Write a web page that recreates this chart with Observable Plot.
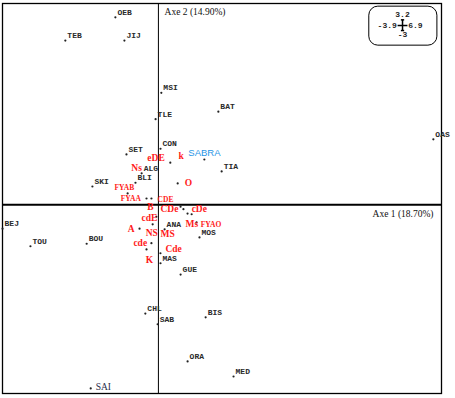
<!DOCTYPE html>
<html><head><meta charset="utf-8">
<script src="https://cdn.jsdelivr.net/npm/d3@7"></script>
<script src="https://cdn.jsdelivr.net/npm/@observablehq/plot@0.6"></script>
<style>body{margin:0;background:#fff}svg{display:block}</style>
</head><body><div id="chart"></div>
<script>
// Region labels (black, monospace)
const regionNames = ["OEB","TEB","JIJ","MSI","TLE","BAT","OAS","CON","SET","TIA","ALG","BLI","SKI","BEJ","TOU","BOU","ANA","MOS","MAS","GUE","CHL","SAB","BIS","ORA","MED"];
const regionX = [-1.00,-2.22,-0.78,0.12,-0.02,1.51,6.75,0.10,-0.73,1.59,-0.36,-0.51,-1.56,-3.75,-3.07,-1.70,0.20,1.05,0.10,0.59,-0.27,0.03,1.20,0.76,1.88];
const regionY = [3.06,2.69,2.69,1.86,1.44,1.56,1.12,0.97,0.88,0.61,0.58,0.43,0.37,-0.30,-0.58,-0.54,-0.31,-0.44,-0.85,-1.03,-1.65,-1.82,-1.71,-2.41,-2.65];

// Phenotype labels (red, larger)
const phenoNames = ["eDE","k","Ns","O","B","CDe","cDe","cdE","Ms","A","NS","MS","cde","Cde","K"];
const phenoX = [-0.27,0.49,-0.66,0.64,-0.27,0.05,0.81,-0.41,0.66,-0.75,-0.31,0.05,-0.61,0.17,-0.31];
const phenoY = [0.74,0.77,0.58,0.34,-0.04,-0.06,-0.06,-0.21,-0.31,-0.38,-0.44,-0.46,-0.60,-0.71,-0.87];

// Phenotype labels (red, smaller)
const phenoSmallNames = ["FYAB","FYAA","CDE","FYAO"];
const phenoSmallX = [-1.07,-0.92,-0.02,1.03];
const phenoSmallY = [0.28,0.10,0.08,-0.31];

// Supplementary labels
const sabraName = "SABRA", sabraX = 0.73, sabraY = 0.83;
const saiName = "SAI", saiX = -1.53, saiY = -2.90;

// Unlabelled points
const dotX = [0.29,1.12,0.47,-0.75,-0.29,-0.17,-0.05,0.54,0.61,0.71,0.81,0.93,-0.14,-0.46,-0.17,-0.29,0.05,-1.65];
const dotY = [0.67,0.72,0.34,0.18,0.10,0.10,-0.19,-0.03,-0.07,-0.14,-0.15,-0.28,-0.31,-0.38,-0.61,-0.71,-0.77,-2.92];

// Axis titles
const axisTitles = ["Axe 2 (14.90%)","Axe 1 (18.70%)"];
const axisTitleX = [0.15,5.22];
const axisTitleY = [3.06,-0.15];

// Scale box values
const scaleTop = "3.2", scaleLeft = "-3.9", scaleRight = "6.9", scaleBottom = "-3";

const regions = regionNames.map((n,i)=>({n,x:regionX[i],y:regionY[i]}));
const phenos = phenoNames.map((n,i)=>({n,x:phenoX[i],y:phenoY[i]}));
const phenosSmall = phenoSmallNames.map((n,i)=>({n,x:phenoSmallX[i],y:phenoSmallY[i]}));
const dots = dotX.map((x,i)=>({x,y:dotY[i]}));
const titles = axisTitles.map((n,i)=>({n,x:axisTitleX[i],y:axisTitleY[i]}));

const mono = "'Liberation Mono', 'DejaVu Sans Mono', monospace";
const serif = "'Liberation Serif', 'DejaVu Serif', serif";

const plot = Plot.plot({
  width: 455, height: 398,
  marginLeft: 2, marginRight: 14, marginTop: 3, marginBottom: 5,
  x: {domain: [-3.8, 6.9], axis: null},
  y: {domain: [-3, 3.2], axis: null},
  style: {background: "#fff"},
  marks: [
    Plot.ruleX([0], {stroke: "#000", strokeWidth: 1}),
    Plot.ruleY([0], {stroke: "#000", strokeWidth: 2}),
    Plot.frame({stroke: "#000", strokeWidth: 1.3}),
    // scale box
    Plot.rect([{x1:5.14,x2:6.80,y1:2.53,y2:3.15}], {x1:"x1",x2:"x2",y1:"y1",y2:"y2", fill:"none", stroke:"#000", strokeWidth:1, rx: 9}),
    Plot.text([scaleTop], {x: 5.95, y: 3.03, text: d=>d, fontFamily: mono, fontWeight: "bold", fontSize: 8, fill: "#222"}),
    Plot.text([scaleBottom], {x: 5.95, y: 2.71, text: d=>d, fontFamily: mono, fontWeight: "bold", fontSize: 8, fill: "#222"}),
    Plot.text([scaleLeft], {x: 5.81, y: 2.85, text: d=>d, textAnchor: "end", fontFamily: mono, fontWeight: "bold", fontSize: 8, fill: "#222"}),
    Plot.text([scaleRight], {x: 6.09, y: 2.85, text: d=>d, textAnchor: "start", fontFamily: mono, fontWeight: "bold", fontSize: 8, fill: "#222"}),
    Plot.link([
      {x1:5.95,x2:5.95,y1:2.77,y2:2.94},
      {x1:5.83,x2:6.07,y1:2.85,y2:2.85},
      {x1:5.91,x2:5.99,y1:2.94,y2:2.94},
      {x1:5.91,x2:5.99,y1:2.77,y2:2.77}
    ], {x1:"x1",x2:"x2",y1:"y1",y2:"y2", stroke:"#000", strokeWidth:1.5}),
    // axis titles
    Plot.text(titles, {x:"x", y:"y", text:"n", textAnchor:"start", fontFamily: serif, fontSize: 9.5, fill:"#111"}),
    // dots
    Plot.dot(regions, {x:"x", y:"y", dx:-2, dy:5, r:1.1, fill:"#222", stroke:"none"}),
    Plot.dot(dots, {x:"x", y:"y", r:1.1, fill:"#222", stroke:"none"}),
    // region labels
    Plot.text(regions, {x:"x", y:"y", text:"n", textAnchor:"start", fontFamily: mono, fontWeight:"bold", fontSize: 8, fill:"#2a2a2a", style:"letter-spacing:1.4px"}),
    // phenotype labels
    Plot.text(phenos, {x:"x", y:"y", text:"n", textAnchor:"start", fontFamily: serif, fontWeight:"bold", fontSize: 9.5, fill:"#ff1a1a"}),
    Plot.text(phenosSmall, {x:"x", y:"y", text:"n", textAnchor:"start", fontFamily: serif, fontWeight:"bold", fontSize: 7.5, fill:"#ff1a1a"}),
    Plot.text([sabraName], {x: sabraX, y: sabraY, text: d=>d, textAnchor:"start", fontFamily:"'Liberation Sans', Arial, sans-serif", fontSize: 9.5, fill:"#1f95e6"}),
    Plot.text([saiName], {x: saiX, y: saiY, text: d=>d, textAnchor:"start", fontFamily: serif, fontSize: 9.5, fill:"#2b2d4a"})
  ]
});
document.getElementById("chart").appendChild(plot);
</script>
</body></html>
